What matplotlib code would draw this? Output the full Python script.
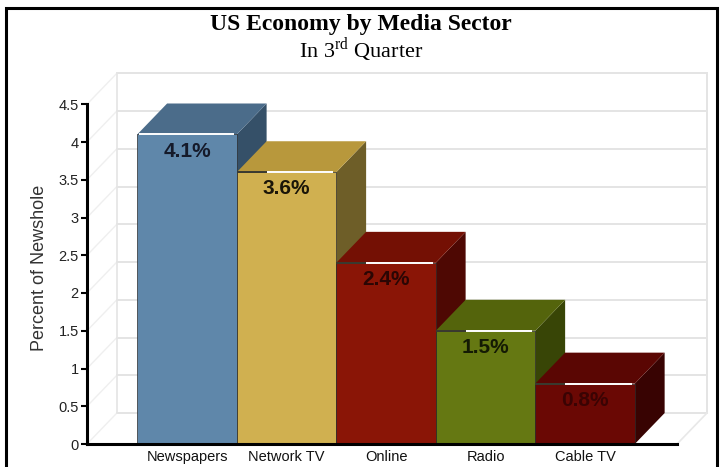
import numpy as np
import matplotlib
matplotlib.use('Agg')
import matplotlib.pyplot as plt
from matplotlib.patches import Polygon, Rectangle

# share of newshole by media sector, 3rd quarter
sectors = ['Newspapers', 'Network TV', 'Online', 'Radio', 'Cable TV']
share = [4.1, 3.6, 2.4, 1.5, 0.8]

front_colors = ['#5f87aa', '#d0b050', '#8a1506', '#657812', '#6a0804']
top_colors = ['#4b6c8a', '#b8983c', '#741004', '#54640c', '#5a0603']
side_colors = ['#355068', '#6e5e28', '#4e0803', '#384506', '#380302']
label_colors = ['#151a2a', '#1a1508', '#2a0604', '#141a04', '#3a0303']

yticks = np.arange(0, 4.51, 0.5)

plt.rcParams['font.family'] = ['Liberation Sans', 'DejaVu Sans']
plt.rcParams['mathtext.fontset'] = 'custom'
plt.rcParams['mathtext.rm'] = 'Liberation Serif'

fig = plt.figure(figsize=(7.22, 4.67), dpi=100)
ax = fig.add_axes([87 / 722, 23 / 467, 625 / 722, 377.5 / 467])
ax.patch.set_alpha(0)

# extrusion depth of the pseudo-3D box, in data units
dx, dy = 0.30, 0.41
x0, x1 = -1.005, 4.925
ax.set_xlim(x0, 5.276)
ax.set_ylim(0, 5.0)

# back wall, side wall and floor
grid_c = '#e4e4e4'
for t in yticks:
    ax.plot([x0 + dx, x1 + dx], [t + dy, t + dy], color=grid_c, lw=1.4, zorder=1)
    ax.plot([x0, x0 + dx], [t, t + dy], color='#efefef', lw=1.0, zorder=1)
ax.plot([x0 + dx, x0 + dx], [dy, yticks[-1] + dy], color=grid_c, lw=1.2, zorder=1)
ax.plot([x1 + dx, x1 + dx], [dy, yticks[-1] + dy], color=grid_c, lw=1.4, zorder=1)
ax.plot([x1, x1 + dx], [0, dy], color='#e8e8e8', lw=1.2, zorder=1)

# bars: front face via bar(), top and side faces as polygons
bars = ax.bar(range(len(share)), share, width=1.0, color=front_colors,
              edgecolor='#2a2a2a', linewidth=0.5)
for i, (b, v) in enumerate(zip(bars, share)):
    l, r = i - 0.5, i + 0.5
    z = 3 + i
    ax.add_patch(Polygon([(r, 0), (r + dx, dy), (r + dx, v + dy), (r, v)],
                         closed=True, fc=side_colors[i], ec='none', zorder=z))
    ax.add_patch(Polygon([(l, v), (r, v), (r + dx, v + dy), (l + dx, v + dy)],
                         closed=True, fc=top_colors[i], ec='none', zorder=z))
    b.set_zorder(z + 0.5)
    # highlight along the top front edge
    if i == 0:
        ax.plot([l + 0.02, r - 0.03], [v, v], color='white', lw=1.4,
                zorder=z + 0.6, solid_capstyle='butt')
    else:
        ax.plot([l, l + dx], [v, v], color='#3a3a30', lw=1.4,
                zorder=z + 0.6, solid_capstyle='butt')
        ax.plot([l + dx, r - 0.03], [v, v], color='white', lw=1.4,
                zorder=z + 0.6, solid_capstyle='butt')
    ax.text(i, v - 0.22, f'{v}%', ha='center', va='center', fontsize=15,
            fontweight='bold', color=label_colors[i], zorder=20)

for s in ['top', 'right']:
    ax.spines[s].set_visible(False)
ax.spines['left'].set_bounds(0, 4.5)
ax.spines['bottom'].set_bounds(x0, x1)
ax.spines['left'].set_linewidth(2.2)
ax.spines['bottom'].set_linewidth(2.2)
ax.spines['left'].set_zorder(30)
ax.spines['bottom'].set_zorder(30)

ax.set_yticks(yticks)
ax.set_yticklabels([f'{t:g}' for t in yticks])
ax.tick_params(axis='y', length=4, width=1.5, pad=2, labelsize=10.5,
               labelcolor='#222222')
ax.set_xticks(range(len(sectors)))
ax.set_xticklabels(sectors, fontsize=10.5, color='#111111')
ax.tick_params(axis='x', length=0, pad=4)

ax.set_ylabel('Percent of Newshole', fontsize=13, color='#333333')
ax.yaxis.set_label_coords(-0.063, 0.466)

fig.text(0.5, 1 - 30 / 467, 'US Economy by Media Sector', ha='center',
         va='baseline', family='Liberation Serif', fontsize=17,
         fontweight='bold')
fig.text(0.5, 1 - 58 / 467, r'In 3$^{\mathrm{rd}}$ Quarter', ha='center',
         va='baseline', family='Liberation Serif', fontsize=16)

# outer frame
fig.add_artist(Rectangle((6 / 722, -0.02), 711 / 722, 1.02 - 8 / 467,
                         transform=fig.transFigure, fill=False,
                         ec='black', lw=2.2))

fig.savefig('out.png', dpi=100)
